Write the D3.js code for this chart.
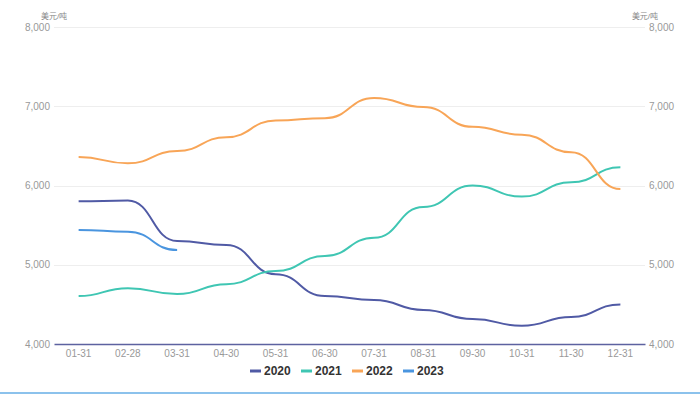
<!DOCTYPE html>
<html>
<head>
<meta charset="utf-8">
<script src="https://cdn.jsdelivr.net/npm/d3@7"></script>
<style>
  html, body { margin: 0; padding: 0; background: #fff; }
  svg { display: block; font-family: "Liberation Sans", "Noto Sans CJK SC", sans-serif; }
</style>
</head>
<body>
<svg id="chart" width="700" height="394"></svg>
<script>
// data
const months = ["01-31", "02-28", "03-31", "04-30", "05-31", "06-30", "07-31", "08-31", "09-30", "10-31", "11-30", "12-31"];
const yTicks = [4000, 5000, 6000, 7000, 8000];
const seriesNames = ["2020", "2021", "2022", "2023"];
const values2020 = [5800, 5810, 5300, 5250, 4880, 4605, 4555, 4430, 4315, 4230, 4340, 4500];
const values2021 = [4605, 4705, 4630, 4755, 4920, 5110, 5340, 5730, 6000, 5860, 6040, 6230];
const values2022 = [6360, 6280, 6435, 6610, 6820, 6850, 7105, 6990, 6740, 6640, 6420, 5955];
const values2023 = [5440, 5415, 5185];
const colors = ["#505aa5", "#3fc6b3", "#f8a557", "#4a95df"];

const series = [values2020, values2021, values2022, values2023].map((vals, i) => ({
	name: seriesNames[i],
	color: colors[i],
	points: vals.map((v, j) => ({ month: months[j], value: v }))
}));

const margin = { left: 54, right: 55, top: 27, bottom: 50 };
const W = 700, H = 394;
const innerW = W - margin.left - margin.right;
const innerH = 344 - margin.top;

const svg = d3.select("#chart");

// bottom page border
svg.append("rect")
	.attr("x", 0).attr("y", 392)
	.attr("width", W).attr("height", 2)
	.attr("fill", "#8cc2ec");

const bounds = svg.append("g")
	.attr("transform", `translate(${margin.left}, ${margin.top})`);

const xScale = d3.scaleBand()
	.domain(months)
	.range([0, innerW]);
const yScale = d3.scaleLinear()
	.domain([4000, 8000])
	.range([innerH, 0]);

const xPos = d => xScale(d) + xScale.bandwidth() / 2;

// grid
bounds.append("g")
	.selectAll("line")
	.data(yTicks.filter(t => t > 4000))
	.join("line")
		.attr("x1", 0).attr("x2", innerW)
		.attr("y1", d => Math.round(yScale(d)) + 0.5)
		.attr("y2", d => Math.round(yScale(d)) + 0.5)
		.attr("stroke", "#eeeeee");

// y labels, both sides
const yLabels = bounds.append("g")
	.attr("font-size", 10)
	.attr("fill", "#999");
yLabels.selectAll(".yl")
	.data(yTicks)
	.join("text")
		.attr("class", "yl")
		.attr("x", -4)
		.attr("y", d => yScale(d))
		.attr("dy", "0.35em")
		.attr("text-anchor", "end")
		.text(d => d3.format(",")(d));
yLabels.selectAll(".yr")
	.data(yTicks)
	.join("text")
		.attr("class", "yr")
		.attr("x", innerW + 4)
		.attr("y", d => yScale(d))
		.attr("dy", "0.35em")
		.attr("text-anchor", "start")
		.text(d => d3.format(",")(d));

// unit labels
bounds.append("text")
	.attr("x", 0).attr("y", -8)
	.attr("text-anchor", "middle")
	.attr("font-size", 8)
	.attr("fill", "#888")
	.text("美元/吨");
bounds.append("text")
	.attr("x", innerW).attr("y", -8)
	.attr("text-anchor", "middle")
	.attr("font-size", 8)
	.attr("fill", "#888")
	.text("美元/吨");

// x axis
const xAxis = bounds.append("g")
	.attr("transform", `translate(0, ${innerH})`)
	.call(d3.axisBottom(xScale).tickSize(0).tickPadding(6));
xAxis.select(".domain")
	.attr("stroke", "#5d62a0")
	.attr("stroke-width", 1.5);
xAxis.selectAll("text")
	.attr("font-size", 10)
	.attr("fill", "#999")
	.attr("font-family", "Liberation Sans, sans-serif");

// lines
const lineGen = d3.line()
	.x(d => xPos(d.month))
	.y(d => yScale(d.value))
	.curve(d3.curveBumpX);

bounds.append("g")
	.selectAll("path")
	.data(series)
	.join("path")
		.attr("d", d => lineGen(d.points))
		.attr("fill", "none")
		.attr("stroke", d => d.color)
		.attr("stroke-width", 2);

// legend
const legendX = [250, 301, 352, 403];
const legend = svg.append("g")
	.attr("transform", "translate(0, 371)");
const items = legend.selectAll("g")
	.data(series)
	.join("g")
		.attr("transform", (d, i) => `translate(${legendX[i]}, 0)`);
items.append("line")
	.attr("x1", 0).attr("x2", 11)
	.attr("stroke", d => d.color)
	.attr("stroke-width", 3);
items.append("text")
	.attr("x", 14)
	.attr("dy", "0.36em")
	.attr("font-size", 12)
	.attr("font-weight", "bold")
	.attr("fill", "#333")
	.text(d => d.name);
</script>
</body>
</html>
